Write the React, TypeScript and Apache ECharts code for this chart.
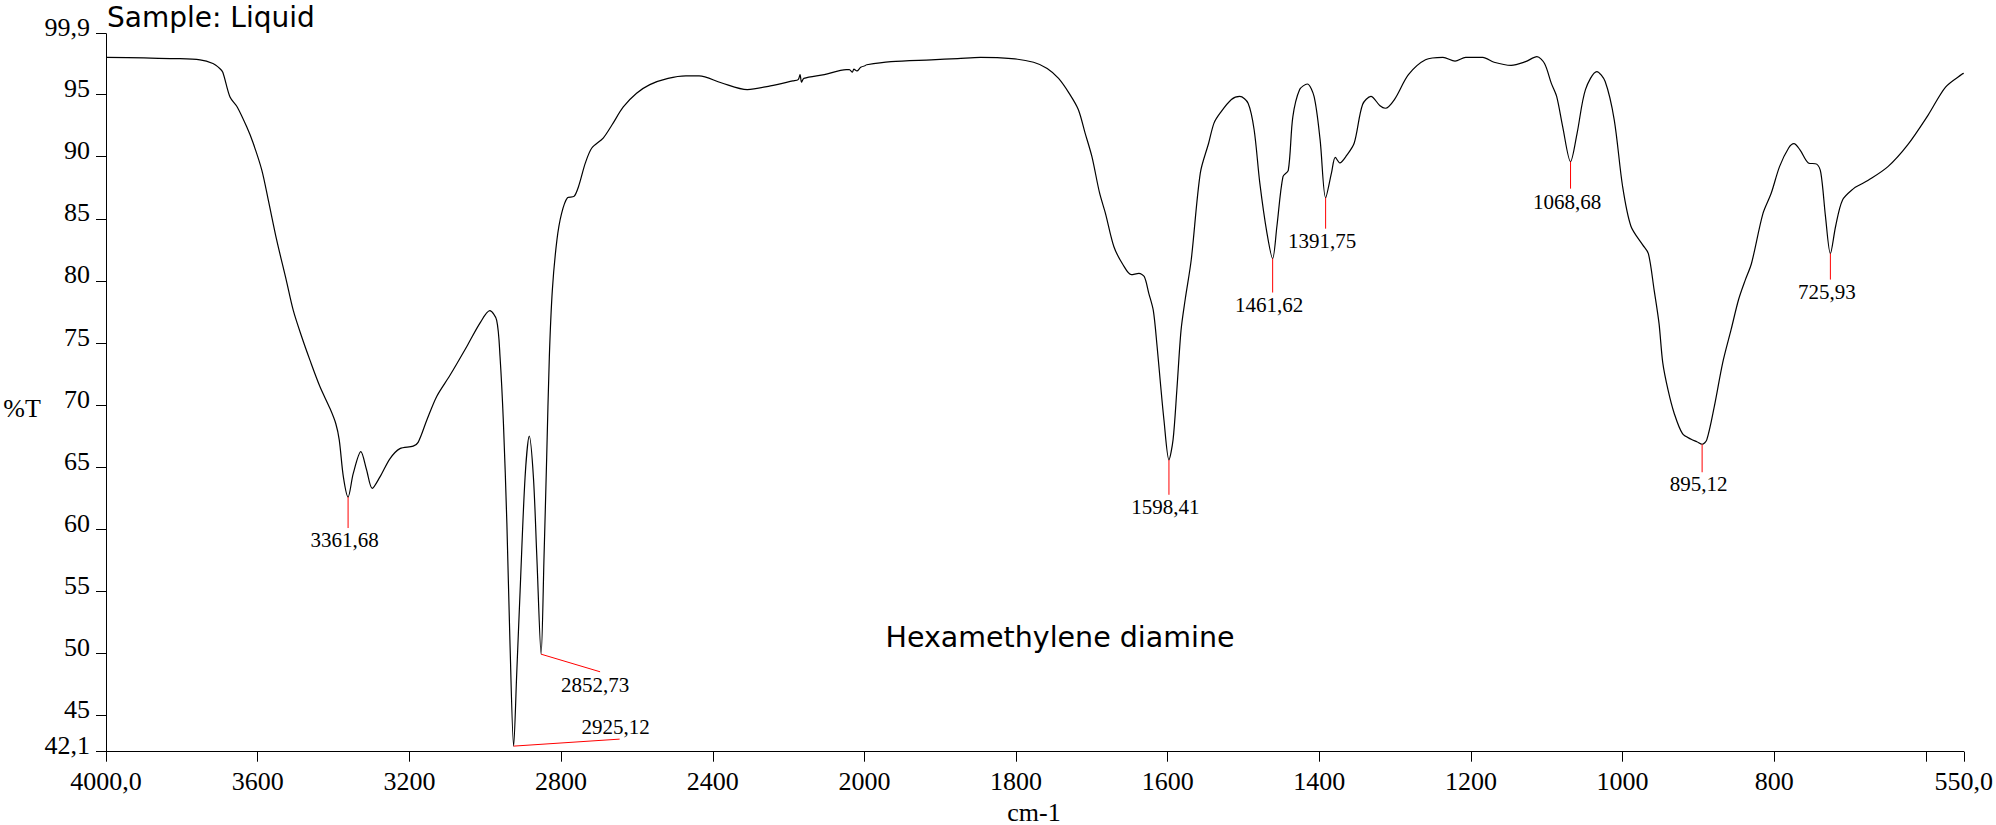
import React, { useEffect, useRef } from 'react';
import * as echarts from 'echarts';

// ---- spectrum data (wavenumber in cm-1, %T) ----
const wavenumbers = [
  4000, 3900, 3820, 3752, 3718, 3700, 3692, 3673, 3654, 3629, 3612, 3589, 3572, 3550, 3525, 3506, 3484, 3462, 3436, 3409,
  3394, 3385, 3374, 3361.68, 3348, 3328, 3313, 3298, 3278, 3251, 3225, 3190, 3177, 3154, 3128, 3093, 3049, 3014, 2988, 2970,
  2961, 2952, 2943, 2935, 2925.12, 2917, 2908, 2895, 2884, 2873, 2864, 2852.73, 2845, 2838, 2831, 2823, 2811, 2799, 2783, 2766,
  2754, 2736, 2719, 2689, 2666, 2636, 2601, 2566, 2518, 2471, 2436, 2378, 2309, 2248, 2189, 2175, 2170, 2166, 2160, 2106,
  2048, 2040, 2032, 2028, 2020, 2010, 2000,
  1997, 1965, 1912, 1877, 1847, 1806, 1777, 1759, 1744, 1730, 1718, 1709, 1700, 1690, 1682, 1671, 1659, 1648, 1638, 1631,
  1625, 1619, 1614, 1610, 1605, 1598.41, 1593, 1588, 1582.5, 1577, 1569, 1557, 1546, 1539, 1531, 1516, 1505, 1494, 1486, 1478.5,
  1469, 1461.62, 1456, 1448, 1441, 1435, 1426, 1416, 1407, 1399, 1391.75, 1384, 1379, 1373, 1364, 1354, 1343, 1332, 1320, 1313,
  1301, 1282.5, 1260, 1237, 1221, 1207, 1184.5, 1169.5, 1147, 1128, 1113, 1103, 1094, 1087, 1079, 1068.68, 1060, 1049, 1034, 1023,
  1011, 1000, 989, 973.5, 966, 958.5, 952, 947, 940, 932, 921, 909.5, 902, 895.12, 889, 879, 868, 857, 847, 838,
  830, 815, 804, 793, 781, 774, 766, 755, 744, 738.5, 732.4, 725.93, 719, 710, 695, 688, 676, 650, 624, 597,
  574, 552, 550,
];

const transmittance = [
  98.0, 97.95, 97.9, 97.8, 97.5, 97.1, 96.8, 94.8, 94.0, 92.4, 91.1, 88.9, 86.5, 83.3, 80.1, 77.6, 75.5, 73.6, 71.5, 69.7,
  68.5, 67.2, 64.2, 62.6, 64.5, 66.25, 64.8, 63.3, 64.2, 65.7, 66.5, 66.7, 67.0, 68.8, 70.7, 72.4, 74.7, 76.6, 77.6, 76.85,
  73.9, 68.5, 60.5, 51.1, 42.55, 48.4, 55.1, 64.2, 67.5, 64.2, 57.8, 49.95, 57.8, 65.8, 73.9, 79.3, 83.3, 85.4, 86.7, 86.8,
  87.6, 89.5, 90.7, 91.5, 92.55, 94.0, 95.1, 95.8, 96.3, 96.5, 96.5, 95.95, 95.4, 95.7, 96.1, 96.2, 96.6, 96.0, 96.3, 96.6,
  97.0, 97.0, 96.8, 97.05, 96.9, 97.2, 97.3,
  97.4, 97.65, 97.8, 97.9, 98.0, 97.9, 97.6, 97.1, 96.3, 95.1, 93.8, 91.9, 90.0, 87.1, 85.4, 82.75, 81.3, 80.5, 80.6, 80.35,
  79.0, 77.6, 74.7, 72.0, 68.8, 65.6, 67.2, 71.2, 76.0, 78.5, 81.7, 88.7, 91.1, 92.7, 93.5, 94.6, 94.85, 94.3, 92.15, 87.85,
  83.8, 81.8, 84.4, 88.4, 88.9, 93.2, 95.4, 95.85, 94.85, 91.35, 86.7, 88.7, 89.95, 89.5, 90.1, 91.1, 94.2, 94.85, 94.1, 93.9,
  94.6, 96.6, 97.8, 98.0, 97.7, 98.0, 98.0, 97.6, 97.35, 97.65, 98.05, 97.5, 95.9, 94.85, 92.4, 89.6, 91.9, 95.4, 96.85, 96.05,
  92.95, 87.6, 84.4, 82.9, 82.2, 79.3, 76.6, 73.4, 71.2, 69.35, 67.7, 67.25, 67.05, 66.85, 67.2, 69.9, 73.4, 76.05, 78.5, 80.1,
  81.4, 85.4, 87.05, 89.2, 90.7, 91.05, 90.55, 89.5, 89.4, 88.7, 85.2, 82.2, 84.4, 86.5, 87.45, 87.7, 88.1, 89.2, 90.95, 93.35,
  95.6, 96.65, 96.7,
];

// ---- annotated peaks ----
const peakWavenumbers = [3361.68, 2925.12, 2852.73, 1598.41, 1461.62, 1391.75, 1068.68, 895.12, 725.93];
const peakLabels = ['3361,68', '2925,12', '2852,73', '1598,41', '1461,62', '1391,75', '1068,68', '895,12', '725,93'];

// ---- axes ticks / labels ----
const xTickValues = [4000, 3600, 3200, 2800, 2400, 2000, 1800, 1600, 1400, 1200, 1000, 800, 600, 550];
const xTickLabels = ['4000,0', '3600', '3200', '2800', '2400', '2000', '1800', '1600', '1400', '1200', '1000', '800', '', '550,0'];
const yTickValues = [42.1, 45, 50, 55, 60, 65, 70, 75, 80, 85, 90, 95, 99.9];
const yTickLabels = ['42,1', '45', '50', '55', '60', '65', '70', '75', '80', '85', '90', '95', '99,9'];

const X_BREAK = 2000; // scale doubles below 2000 cm-1
const X_MAX = 4000;
const X_MIN = 550;
const Y_MIN = 42.1;
const Y_MAX = 99.9;

// leader line offsets (px) and label offsets (px) for each peak label: [lx, ly, tx, ty]
const peakLeaders = [
  [0, 31, -3.5, 43],
  [106, -7, 102, -19],
  [59, 17.6, 54, 31],
  [0, 35, -3.5, 47],
  [0, 34, -3.5, 46],
  [0, 31, -3.5, 43.5],
  [0, 27, -3.5, 40.7],
  [0, 28, -3.5, 40],
  [0, 26, -3.5, 38.7],
];

const SERIF = '"Liberation Serif", "Times New Roman", serif';
const HAND = '"Comic Sans MS", "DejaVu Sans", sans-serif';

function labelFor(values: number[], labels: string[], v: number) {
  for (let i = 0; i < values.length; i++) {
    if (Math.abs(values[i] - v) < 1e-6) return labels[i];
  }
  return '';
}

export default function App() {
  const ref = useRef<HTMLDivElement>(null);

  useEffect(() => {
    if (!ref.current) return;
    const chart = echarts.init(ref.current, undefined, { renderer: 'svg' });

    const highData: number[][] = [];
    const lowData: number[][] = [];
    wavenumbers.forEach((w, i) => {
      if (w >= X_BREAK) highData.push([w, transmittance[i]]);
      if (w <= X_BREAK) lowData.push([w, transmittance[i]]);
    });

    const peakData = peakWavenumbers.map((w, i) => {
      const idx = wavenumbers.indexOf(w);
      return [w, transmittance[idx], i];
    });
    const peaksHigh = peakData.filter((p) => p[0] >= X_BREAK);
    const peaksLow = peakData.filter((p) => p[0] < X_BREAK);

    const renderPeak = (params: any, api: any) => {
      const i = api.value(2);
      const p = api.coord([api.value(0), api.value(1)]);
      const [lx, ly, tx, ty] = peakLeaders[i];
      return {
        type: 'group',
        children: [
          {
            type: 'line',
            shape: { x1: p[0], y1: p[1], x2: p[0] + lx, y2: p[1] + ly },
            style: { stroke: '#ff0000', lineWidth: 1 },
          },
          {
            type: 'text',
            x: p[0] + tx,
            y: p[1] + ty,
            style: {
              text: peakLabels[i],
              fill: '#000',
              fontFamily: SERIF,
              fontSize: 21,
              align: 'center',
              verticalAlign: 'middle',
            },
          },
        ],
      };
    };

    const gridTop = 33.7;
    const gridHeight = 718;
    const xAxisCommon = {
      type: 'value',
      inverse: true,
      splitLine: { show: false },
      axisLine: { show: true, onZero: false, lineStyle: { color: '#000', width: 1 } },
      axisTick: { show: true, length: 10, lineStyle: { color: '#000', width: 1 } },
    };
    const xLabelStyle = {
      color: '#000',
      fontFamily: SERIF,
      fontSize: 26,
      lineHeight: 26,
      margin: 17,
      formatter: (v: number) => labelFor(xTickValues, xTickLabels, v),
    };

    const option: any = {
      animation: false,
      backgroundColor: '#fff',
      grid: [
        { left: 106, top: gridTop, width: 758.5, height: gridHeight },
        { left: 864.5, top: gridTop, width: 1099.5, height: gridHeight },
      ],
      xAxis: [
        {
          ...xAxisCommon,
          gridIndex: 0,
          min: X_BREAK,
          max: X_MAX,
          axisTick: { ...xAxisCommon.axisTick, customValues: xTickValues.filter((v) => v >= X_BREAK) },
          axisLabel: { ...xLabelStyle, customValues: xTickValues.filter((v) => v >= X_BREAK) },
        },
        {
          ...xAxisCommon,
          gridIndex: 1,
          min: X_MIN,
          max: X_BREAK,
          axisTick: { ...xAxisCommon.axisTick, customValues: xTickValues.filter((v) => v < X_BREAK) },
          axisLabel: {
            ...xLabelStyle,
            customValues: xTickValues.filter((v, i) => v < X_BREAK && xTickLabels[i] !== ''),
          },
        },
      ],
      yAxis: [
        {
          type: 'value',
          gridIndex: 0,
          min: Y_MIN,
          max: Y_MAX,
          splitLine: { show: false },
          axisLine: { show: true, lineStyle: { color: '#000', width: 1 } },
          axisTick: { show: true, length: 10, customValues: yTickValues, lineStyle: { color: '#000', width: 1 } },
          axisLabel: {
            customValues: yTickValues,
            color: '#000',
            fontFamily: SERIF,
            fontSize: 26,
            lineHeight: 12,
            verticalAlign: 'bottom',
            margin: 16,
            formatter: (v: number) => labelFor(yTickValues, yTickLabels, v),
          },
        },
        { type: 'value', gridIndex: 1, min: Y_MIN, max: Y_MAX, show: false },
      ],
      graphic: [
        {
          type: 'text',
          x: 107,
          y: 17,
          style: {
            text: 'Sample: Liquid',
            fill: '#000',
            fontFamily: HAND,
            fontSize: 28,
            lineHeight: 34,
            align: 'left',
            verticalAlign: 'middle',
          },
        },
        {
          type: 'text',
          x: 1060,
          y: 637,
          style: {
            text: 'Hexamethylene diamine',
            fill: '#000',
            fontFamily: HAND,
            fontSize: 28.5,
            align: 'center',
            verticalAlign: 'middle',
          },
        },
        {
          type: 'text',
          x: 22,
          y: 408,
          style: { text: '%T', fill: '#000', fontFamily: SERIF, fontSize: 26, align: 'center', verticalAlign: 'middle' },
        },
        {
          type: 'text',
          x: 1034,
          y: 812,
          style: { text: 'cm-1', fill: '#000', fontFamily: SERIF, fontSize: 26, align: 'center', verticalAlign: 'middle' },
        },
      ],
      series: [
        {
          type: 'line',
          xAxisIndex: 0,
          yAxisIndex: 0,
          data: highData,
          symbol: 'none',
          smooth: 0.3,
          lineStyle: { color: '#000', width: 1.2 },
        },
        {
          type: 'line',
          xAxisIndex: 1,
          yAxisIndex: 1,
          data: lowData,
          symbol: 'none',
          smooth: 0.3,
          lineStyle: { color: '#000', width: 1.2 },
        },
        {
          type: 'custom',
          xAxisIndex: 0,
          yAxisIndex: 0,
          data: peaksHigh,
          clip: false,
          silent: true,
          z: 5,
          renderItem: renderPeak,
        },
        {
          type: 'custom',
          xAxisIndex: 1,
          yAxisIndex: 1,
          data: peaksLow,
          clip: false,
          silent: true,
          z: 5,
          renderItem: renderPeak,
        },
      ],
    };

    chart.setOption(option);
    return () => chart.dispose();
  }, []);

  return (
    <div
      ref={ref}
      style={{ position: 'fixed', left: 0, top: 0, width: 1996, height: 825, background: '#fff' }}
    />
  );
}
